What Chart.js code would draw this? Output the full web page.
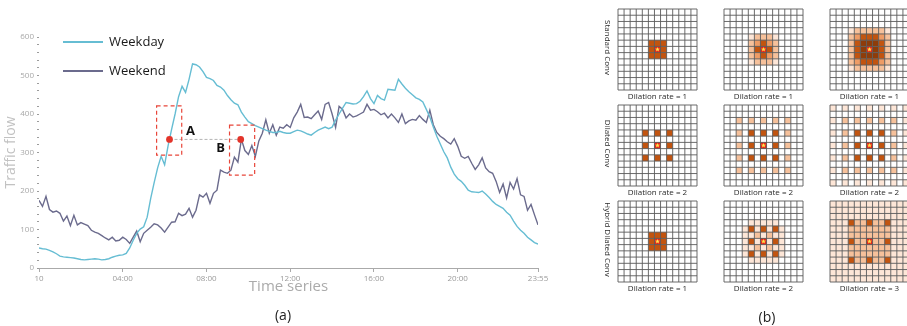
<!DOCTYPE html>
<html><head><meta charset="utf-8">
<script src="https://cdn.jsdelivr.net/npm/chart.js@4/dist/chart.umd.min.js"></script>
<style>
html,body{margin:0;padding:0;background:#fff;}
#wrap{position:relative;width:907px;height:326px;overflow:hidden;background:#fff;}
#c1{position:absolute;left:0;top:0;}
#c2{position:absolute;left:560px;top:0;}
</style></head><body>
<div id="wrap"><canvas id="c1" width="560" height="326"></canvas><canvas id="c2" width="347" height="326"></canvas></div>
<script>
// ---------- data (a) ----------
const timeTickLabels = ["10","04:00","08:00","12:00","16:00","20:00","23:55"];
const timeTickMinutes = [0,240,480,720,960,1200,1430];
const stepMinutes = 10;
const seriesNames = ["Weekday","Weekend"];
const weekday = [
 52,50,49,46,42,37,31,29,28,27,
 26,24,22,21,22,23,24,23,21,22,
 24,28,31,33,34,38,52,72,90,101,
 107,132,180,222,260,290,268,318,360,400,
 445,472,456,490,530,528,522,510,495,492,
 487,474,470,462,448,437,428,424,405,392,
 380,375,370,366,362,358,355,352,352,355,
 352,350,350,354,358,356,352,348,345,352,
 358,362,366,362,366,384,400,415,430,428,
 426,427,433,445,460,440,427,448,440,436,
 464,463,462,490,478,467,458,450,442,438,
 431,412,392,366,342,322,302,286,262,244,
 232,225,215,202,198,197,196,200,192,183,
 173,165,160,155,145,137,122,108,98,90,
 80,73,66,62];
const weekend = [
 176,160,186,152,145,148,142,122,135,110,
 137,112,118,114,110,98,93,90,84,78,
 73,80,70,72,80,74,64,80,96,68,
 90,98,106,115,112,104,93,106,119,120,
 142,136,140,155,132,150,190,184,194,168,
 194,202,254,249,246,254,288,275,334,305,
 295,318,290,330,350,385,350,372,345,366,
 363,372,365,390,405,425,391,392,388,398,
 408,386,425,430,400,365,420,412,390,400,
 392,395,400,405,425,410,412,406,398,402,
 390,400,390,378,400,375,382,386,384,396,
 386,378,410,372,352,342,336,328,322,336,
 316,290,285,290,272,256,268,286,260,250,
 246,225,196,218,182,222,205,232,190,186,
 150,165,138,112];
const markerLabels = ["A","B"];
const markerMinutes = [374,578];
const markerValue = 334;
const boxMinutes = [[337,409],[546,618]];
const boxValues = [[293,421],[241,371]];

// ---------- data (b) ----------
const rowNames = ["Standard Conv","Dilated Conv","Hybrid Dilated Conv"];
const dilationRates = [[1,1,1],[2,2,2],[1,2,3]];
const Z = "0000000000000";
const std1 = [Z,Z,Z,Z,Z,"0000044400000","0000044400000","0000044400000",Z,Z,Z,Z,Z];
const std2 = [Z,Z,Z,Z,"0000122210000","0000234320000","0000244420000","0000234320000","0000122210000",Z,Z,Z,Z];
const std3 = [Z,Z,Z,"0001222221000","0002344432000","0002455542000","0002455542000","0002455542000","0002344432000","0001222221000",Z,Z,Z];
const dil1 = [Z,Z,Z,Z,"0000404040000",Z,"0000404040000",Z,"0000404040000",Z,Z,Z,Z];
const dil2 = [Z,Z,"0020202020200",Z,"0020404040200",Z,"0020404040200",Z,"0020404040200",Z,"0020202020200",Z,Z];
const dil3 = ["1010101010101",Z,"1020202020201",Z,"1020404040201",Z,"1020404040201",Z,"1020404040201",Z,"1020202020201",Z,"1010101010101"];
const hyb1 = std1;
const hyb2 = [Z,Z,Z,"0000111110000","0001414141000","0001121211000","0001414141000","0001121211000","0001414141000","0000111110000",Z,Z,Z];
const O = "1111111111111";
const hyb3 = [O,O,O,"1114224224111","1112222222111","1112222222111","1114224224111","1112222222111","1112222222111","1114224224111",O,O,O];
const panelPatterns = [[std1,std2,std3],[dil1,dil2,dil3],[hyb1,hyb2,hyb3]];
const levelColors = ["#ffffff","#fde6d7","#f6c19b","#ee9c66","#c2540f","#8e3c0a"];

// ---------- chart (a) ----------
const colWeekday = "#66bdd3", colWeekend = "#6b6b8d";
const annotPlugin = {
  id:"annot",
  afterDatasetsDraw(chart){
    const {ctx, scales:{x,y}} = chart;
    ctx.save();
    // gray dashed link
    ctx.strokeStyle="#b5b5b5"; ctx.lineWidth=1; ctx.setLineDash([3,2]);
    ctx.beginPath();
    ctx.moveTo(x.getPixelForValue(markerMinutes[0]), y.getPixelForValue(markerValue));
    ctx.lineTo(x.getPixelForValue(markerMinutes[1]), y.getPixelForValue(markerValue));
    ctx.stroke();
    // red dashed boxes
    ctx.strokeStyle="#e8463a"; ctx.lineWidth=1.2; ctx.setLineDash([4,3]);
    boxMinutes.forEach((b,k)=>{
      const x0=x.getPixelForValue(b[0]), x1=x.getPixelForValue(b[1]);
      const y0=y.getPixelForValue(boxValues[k][1]), y1=y.getPixelForValue(boxValues[k][0]);
      ctx.strokeRect(x0,y0,x1-x0,y1-y0);
    });
    ctx.setLineDash([]);
    // dots
    ctx.fillStyle="#e3342a";
    markerMinutes.forEach(m=>{
      ctx.beginPath(); ctx.arc(x.getPixelForValue(m), y.getPixelForValue(markerValue), 3.4, 0, Math.PI*2); ctx.fill();
    });
    // letters
    ctx.fillStyle="#111"; ctx.font="bold 13px 'Open Sans'"; ctx.textAlign="center"; ctx.textBaseline="middle";
    ctx.fillText(markerLabels[0], x.getPixelForValue(markerMinutes[0])+21, y.getPixelForValue(markerValue)-8);
    ctx.fillText(markerLabels[1], x.getPixelForValue(markerMinutes[1])-20, y.getPixelForValue(markerValue)+9);
    ctx.restore();
  },
  afterDraw(chart){
    const {ctx} = chart;
    ctx.save();
    // legend
    chart.data.datasets.forEach((ds,k)=>{
      const yy = 42 + k*29;
      ctx.strokeStyle = ds.borderColor; ctx.lineWidth = 2;
      ctx.beginPath(); ctx.moveTo(63,yy); ctx.lineTo(103,yy); ctx.stroke();
      ctx.fillStyle="#1a1a1a"; ctx.font="13px 'Open Sans'"; ctx.textAlign="left"; ctx.textBaseline="middle";
      ctx.fillText(ds.label, 109, yy);
    });
    ctx.fillStyle="#222"; ctx.font="14px 'Open Sans'"; ctx.textAlign="center"; ctx.textBaseline="middle";
    ctx.fillText("(a)", 283, 316);
    ctx.restore();
  }
};
new Chart(document.getElementById("c1"), {
  type:"line",
  data:{datasets:[
    {label:seriesNames[0], data:weekday.map((v,i)=>({x:i*stepMinutes,y:v})), borderColor:colWeekday, borderWidth:1.4, pointRadius:0, tension:0, fill:false},
    {label:seriesNames[1], data:weekend.map((v,i)=>({x:i*stepMinutes,y:v})), borderColor:colWeekend, borderWidth:1.4, pointRadius:0, tension:0, fill:false}
  ]},
  options:{
    responsive:false, animation:false, devicePixelRatio:1,
    layout:{padding:{left:0,right:22,top:37,bottom:30}},
    plugins:{legend:{display:false}, tooltip:{enabled:false}},
    scales:{
      x:{type:"linear", min:0, max:1430,
        afterBuildTicks(s){ s.ticks = timeTickMinutes.map(v=>({value:v})); },
        ticks:{autoSkip:false, maxRotation:0, color:"#9a9a9a", font:{family:"Open Sans",size:8}, padding:2,
          callback:(v)=>{const k=timeTickMinutes.indexOf(v); return k>=0?timeTickLabels[k]:"";}},
        grid:{display:true, drawOnChartArea:false, drawTicks:true, tickLength:4, color:"#aaaaaa"},
        border:{display:true,color:"#aaaaaa",width:1},
        title:{display:true,text:"Time series",color:"#ababab",font:{family:"Open Sans",size:15},padding:0},
        afterFit(s){ s.height = 28; }
      },
      y:{min:0,max:600,
        ticks:{stepSize:20, autoSkip:false, color:"#a8a8a8", font:{family:"Open Sans",size:8}, padding:3,
          callback:(v)=> (v%100===0 ? String(v) : "")},
        grid:{drawOnChartArea:false, drawTicks:true, tickLength:2, color:"#9c9c9c"},
        border:{display:false},
        title:{display:true,text:"Traffic flow",color:"#c2c2c2",font:{family:"Open Sans",size:14},padding:{top:3,bottom:0}},
        afterFit(s){ s.width = 39; }
      }
    }
  },
  plugins:[annotPlugin]
});

// ---------- chart (b) ----------
const gridLeft=[58,164,270], gridTop=[9,105,201], gridW=79, gridH=81, N=13;
function star(ctx,cx,cy,ro,ri){
  ctx.beginPath();
  for(let k=0;k<10;k++){
    const r = k%2===0?ro:ri, a = -Math.PI/2 + k*Math.PI/5;
    const px = cx + r*Math.cos(a), py = cy + r*Math.sin(a);
    k===0?ctx.moveTo(px,py):ctx.lineTo(px,py);
  }
  ctx.closePath(); ctx.fill();
}
const dilationPlugin = {
  id:"dilation",
  afterDraw(chart){
    const {ctx, scales:{x,y}} = chart;
    const X=v=>x.getPixelForValue(v), Y=v=>y.getPixelForValue(v);
    ctx.save();
    const cw=gridW/N, ch=gridH/N;
    for(let r=0;r<3;r++){
      for(let c=0;c<3;c++){
        const pat=panelPatterns[r][c], x0=gridLeft[c], y0=gridTop[r];
        for(let i=0;i<N;i++){
          for(let j=0;j<N;j++){
            const lvl=+pat[i][j];
            if(!lvl) continue;
            ctx.fillStyle=levelColors[lvl];
            const a=X(x0+j*cw), b=Y(y0+i*ch);
            ctx.fillRect(a,b,X(x0+(j+1)*cw)-a,Y(y0+(i+1)*ch)-b);
          }
        }
        // center cell
        const ca=X(x0+6*cw), cb=Y(y0+6*ch);
        ctx.fillStyle="#e3261b";
        ctx.fillRect(ca,cb,X(x0+7*cw)-ca,Y(y0+7*ch)-cb);
        ctx.fillStyle="#ffe24a";
        star(ctx,X(x0+6.5*cw),Y(y0+6.5*ch),2.6,1.1);
        // grid lines
        ctx.strokeStyle="#5a5a5a"; ctx.lineWidth=0.9;
        ctx.beginPath();
        for(let k=0;k<=N;k++){
          ctx.moveTo(X(x0+k*cw),Y(y0)); ctx.lineTo(X(x0+k*cw),Y(y0+gridH));
          ctx.moveTo(X(x0),Y(y0+k*ch)); ctx.lineTo(X(x0+gridW),Y(y0+k*ch));
        }
        ctx.stroke();
        // label
        ctx.fillStyle="#2a2a2a"; ctx.font="8px 'Open Sans'"; ctx.textAlign="center"; ctx.textBaseline="middle";
        ctx.fillText("Dilation rate = "+dilationRates[r][c], X(x0+gridW/2), Y(y0+gridH+6.5));
      }
      // row label
      ctx.save();
      ctx.translate(X(47), Y(gridTop[r]+gridH/2-2));
      ctx.rotate(Math.PI/2);
      ctx.fillStyle="#2a2a2a"; ctx.font="8px 'Open Sans'"; ctx.textAlign="center"; ctx.textBaseline="middle";
      ctx.fillText(rowNames[r],0,0);
      ctx.restore();
    }
    ctx.fillStyle="#222"; ctx.font="14px 'Open Sans'"; ctx.textAlign="center"; ctx.textBaseline="middle";
    ctx.fillText("(b)", X(207), Y(318));
    ctx.restore();
  }
};
new Chart(document.getElementById("c2"), {
  type:"scatter",
  data:{datasets:[{data:[]}]},
  options:{
    responsive:false, animation:false, devicePixelRatio:1,
    layout:{padding:0},
    plugins:{legend:{display:false}, tooltip:{enabled:false}},
    scales:{
      x:{type:"linear",min:0,max:347,display:false},
      y:{type:"linear",min:0,max:326,reverse:true,display:false}
    }
  },
  plugins:[dilationPlugin]
});
</script>
</body></html>
